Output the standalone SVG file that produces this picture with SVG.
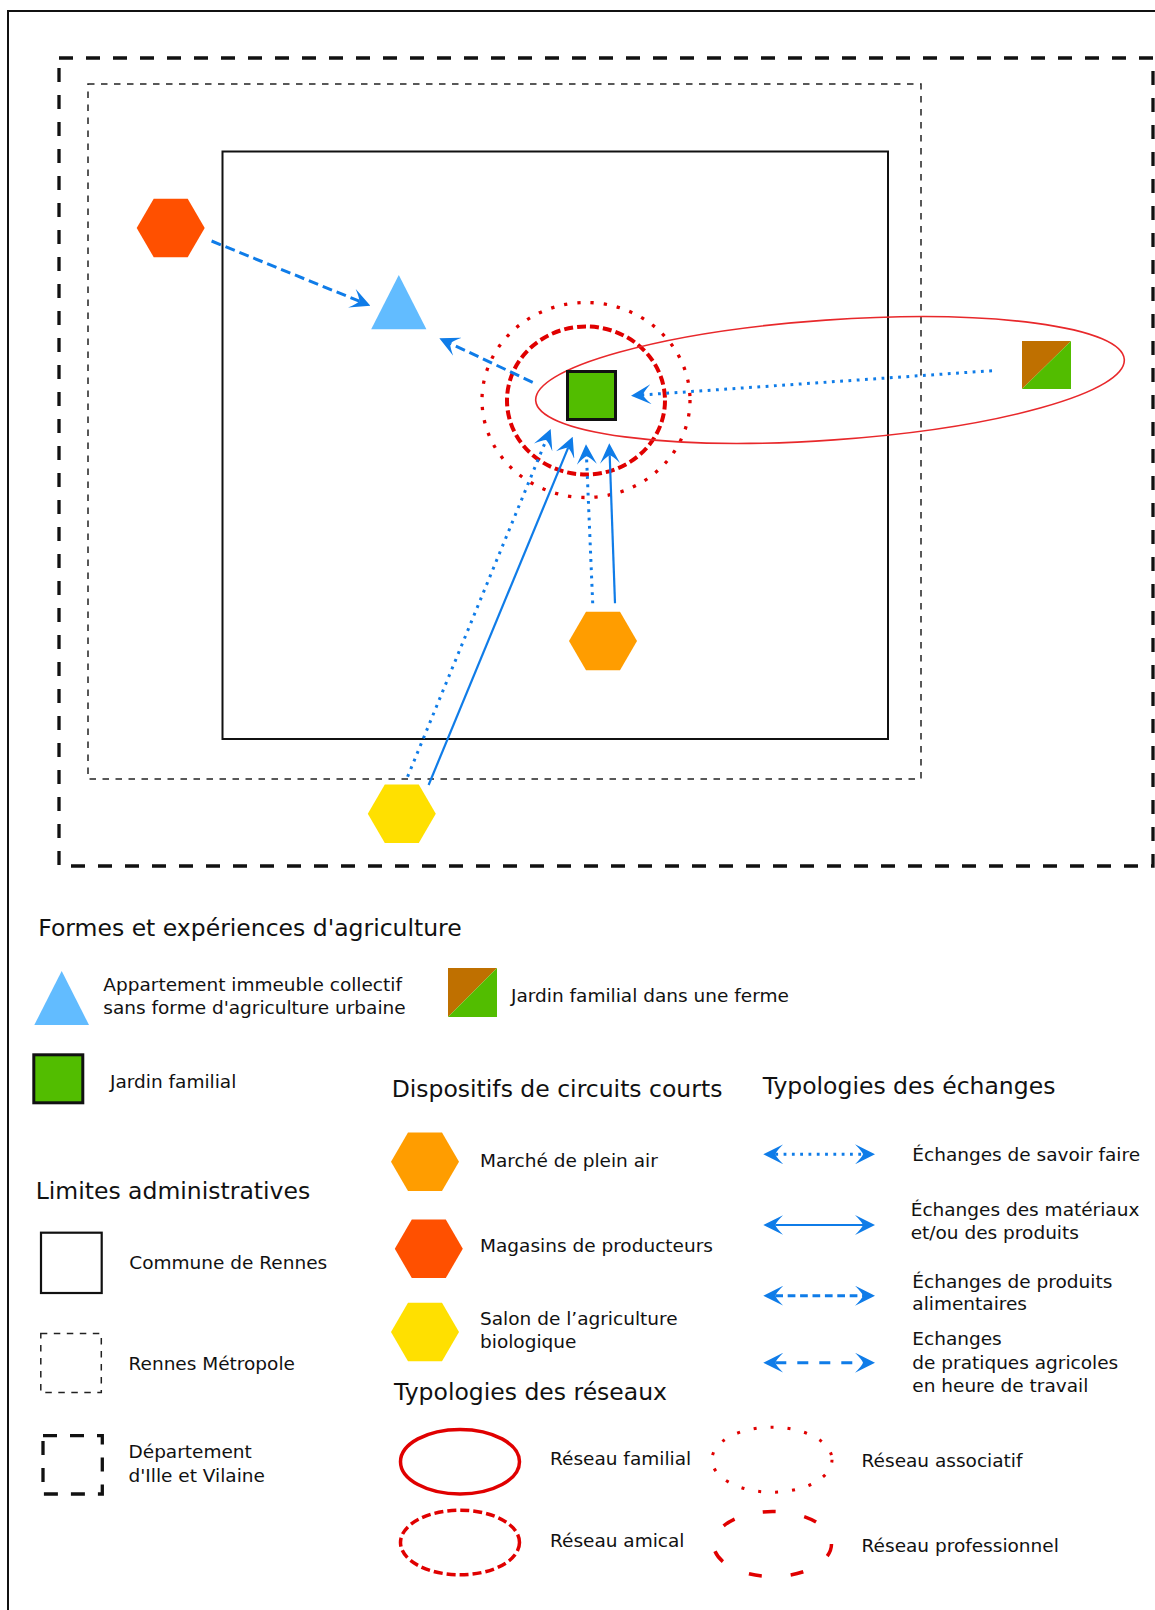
<svg xmlns="http://www.w3.org/2000/svg" width="1155" height="1610" viewBox="0 0 1155 1610">
<style>
text{font-family:"DejaVu Sans","Liberation Sans",sans-serif;fill:#111}
.t{font-size:23.5px}
.s{font-size:18.5px}
.blue{fill:none;stroke:#0f7ce8}
.dot{stroke-width:3;stroke-dasharray:2.8,5.5}
.sol{stroke-width:2.2}
.dsh{stroke-width:3;stroke-dasharray:10,5}
.dsh2{stroke-width:3;stroke-dasharray:11,11}
.red{fill:none;stroke:#e00000}
</style>
<defs>
<marker id="ae" markerUnits="userSpaceOnUse" viewBox="0 0 20 20" markerWidth="20" markerHeight="20" refX="8" refY="10" orient="auto">
<path d="M0,0 L20,10 L0,20 Q7,13 8,10 Q7,7 0,0 Z" fill="#0f7ce8"/>
</marker>
<marker id="as" markerUnits="userSpaceOnUse" viewBox="0 0 20 20" markerWidth="20" markerHeight="20" refX="8" refY="10" orient="auto-start-reverse">
<path d="M0,0 L20,10 L0,20 Q7,13 8,10 Q7,7 0,0 Z" fill="#0f7ce8"/>
</marker>
<polygon id="hex" points="-34,0 -17,-29.2 17,-29.2 34,0 17,29.2 -17,29.2"/>
</defs>
<rect width="1155" height="1610" fill="#fff"/>
<rect x="8" y="11" width="1170" height="1620" fill="none" stroke="#111" stroke-width="2"/>

<g id="boundaries">
<rect id="departement" x="59" y="58" width="1094" height="808" fill="none" stroke="#111" stroke-width="3.3" stroke-dasharray="14,13"/>
<rect id="metropole" x="88" y="84" width="833" height="695" fill="none" stroke="#222" stroke-width="1.5" stroke-dasharray="6.5,6.5"/>
<rect id="commune" x="222.5" y="151.5" width="665.5" height="587.5" fill="none" stroke="#111" stroke-width="2"/>
</g>

<g id="networks">
<ellipse id="reseau-associatif" cx="586" cy="400" rx="104" ry="97.5" class="red" stroke-width="3.3" stroke-dasharray="3.3,10"/>
<ellipse id="reseau-amical" cx="586" cy="400.5" rx="79" ry="74" class="red" stroke-width="4" stroke-dasharray="9,4"/>
<ellipse id="reseau-familial" cx="830" cy="380" rx="295" ry="60" transform="rotate(-4 830 380)" fill="none" stroke="#e8282b" stroke-width="1.6"/>
</g>

<g id="magasin-producteurs"><use href="#hex" x="170.7" y="228" fill="#ff5000"/></g>
<g id="appartement"><polygon points="398.8,275 371.2,329.3 426.4,329.3" fill="#62bcff"/></g>
<g id="jardin-familial"><rect x="567.5" y="371.5" width="48" height="48" fill="#52bd00" stroke="#111" stroke-width="3"/></g>
<g id="jardin-ferme"><polygon points="1022,341 1071,341 1022,389" fill="#bf7000"/><polygon points="1071,341 1071,389 1022,389" fill="#52bd00"/></g>
<g id="marche-plein-air"><use href="#hex" x="603" y="641" fill="#ff9d00"/></g>
<g id="salon-bio"><use href="#hex" x="401.8" y="813.7" fill="#ffe000"/></g>

<g id="connectors">
<line x1="211.6" y1="241" x2="359.3" y2="301.2" class="blue dsh" marker-end="url(#ae)"/>
<line x1="532.7" y1="382.3" x2="450.2" y2="343.4" class="blue dsh" marker-end="url(#ae)"/>
<line x1="992" y1="370.7" x2="643" y2="394.9" class="blue dot" marker-end="url(#ae)"/>
<line x1="407.6" y1="776.7" x2="546.1" y2="440.1" class="blue dot" marker-end="url(#ae)"/>
<line x1="428.6" y1="785" x2="568.1" y2="447.8" class="blue sol" marker-end="url(#ae)"/>
<line x1="592.7" y1="603.3" x2="586.5" y2="456.3" class="blue dot" marker-end="url(#ae)"/>
<line x1="615" y1="603.3" x2="609.7" y2="455.3" class="blue sol" marker-end="url(#ae)"/>
</g>

<g id="legend-formes">
<text class="t" x="38.3" y="936">Formes et expériences d'agriculture</text>
<polygon points="61.7,971 34.3,1025 89,1025" fill="#62bcff"/>
<text class="s" x="103.3" y="991">Appartement immeuble collectif</text>
<text class="s" x="103.3" y="1014.3">sans forme d'agriculture urbaine</text>
<polygon points="448,968 497,968 448,1017" fill="#bf7000"/><polygon points="497,968 497,1017 448,1017" fill="#52bd00"/>
<text class="s" x="511" y="1001.7">Jardin familial dans une ferme</text>
<rect x="33.8" y="1054.8" width="49" height="48" fill="#52bd00" stroke="#111" stroke-width="3"/>
<text class="s" x="110" y="1088.3">Jardin familial</text>
</g>

<g id="legend-limites">
<text class="t" x="35.7" y="1199">Limites administratives</text>
<rect x="41" y="1232.7" width="60.7" height="60.3" fill="none" stroke="#111" stroke-width="2.2"/>
<text class="s" x="129.3" y="1269.3">Commune de Rennes</text>
<rect x="40.8" y="1333.5" width="60.5" height="59" fill="none" stroke="#222" stroke-width="1.5" stroke-dasharray="6.5,6.5"/>
<text class="s" x="128.5" y="1370">Rennes Métropole</text>
<rect x="43" y="1435.7" width="59.3" height="58.3" fill="none" stroke="#111" stroke-width="3.3" stroke-dasharray="14,13"/>
<text class="s" x="128.5" y="1458.3">Département</text>
<text class="s" x="128.5" y="1481.7">d'Ille et Vilaine</text>
</g>

<g id="legend-circuits">
<text class="t" x="391.7" y="1096.7">Dispositifs de circuits courts</text>
<use href="#hex" x="425" y="1161.7" fill="#ff9d00"/>
<text class="s" x="480" y="1166.7">Marché de plein air</text>
<use href="#hex" x="428.8" y="1248.8" fill="#ff5000"/>
<text class="s" x="480" y="1251.7">Magasins de producteurs</text>
<use href="#hex" x="425" y="1332" fill="#ffe000"/>
<text class="s" x="480" y="1325">Salon de l’agriculture</text>
<text class="s" x="480" y="1348.3">biologique</text>
</g>

<g id="legend-reseaux">
<text class="t" x="394" y="1400">Typologies des réseaux</text>
<ellipse cx="460" cy="1461.7" rx="59.5" ry="32.3" class="red" stroke-width="3.5"/>
<text class="s" x="550" y="1465">Réseau familial</text>
<ellipse cx="460" cy="1542.5" rx="59.5" ry="32.3" class="red" stroke-width="3.5" stroke-dasharray="9,4"/>
<text class="s" x="550" y="1546.7">Réseau amical</text>
<ellipse cx="772" cy="1459.7" rx="60" ry="32.5" class="red" stroke-width="3" stroke-dasharray="3,14"/>
<text class="s" x="861.6" y="1466.7">Réseau associatif</text>
<ellipse cx="772.5" cy="1544" rx="59" ry="32.5" class="red" stroke-width="3.5" stroke-dasharray="13,29"/>
<text class="s" x="861.6" y="1551.7">Réseau professionnel</text>
</g>

<g id="legend-echanges">
<text class="t" x="762.7" y="1094.3">Typologies des échanges</text>
<line x1="775.3" y1="1154.3" x2="863" y2="1154.3" class="blue dot" marker-start="url(#as)" marker-end="url(#ae)"/>
<text class="s" x="912.3" y="1160.7">Échanges de savoir faire</text>
<line x1="775.3" y1="1225" x2="863" y2="1225" class="blue sol" marker-start="url(#as)" marker-end="url(#ae)"/>
<text class="s" x="910.7" y="1215.7">Échanges des matériaux</text>
<text class="s" x="910.7" y="1239">et/ou des produits</text>
<line x1="775.3" y1="1295.7" x2="863" y2="1295.7" class="blue" stroke-width="3" stroke-dasharray="7.7,4.7" marker-start="url(#as)" marker-end="url(#ae)"/>
<text class="s" x="912.3" y="1287.7">Échanges de produits</text>
<text class="s" x="912.3" y="1310">alimentaires</text>
<line x1="775.3" y1="1362.7" x2="863" y2="1362.7" class="blue dsh2" marker-start="url(#as)" marker-end="url(#ae)"/>
<text class="s" x="912.3" y="1345">Echanges</text>
<text class="s" x="912.3" y="1369">de pratiques agricoles</text>
<text class="s" x="912.3" y="1391.7">en heure de travail</text>
</g>
</svg>
